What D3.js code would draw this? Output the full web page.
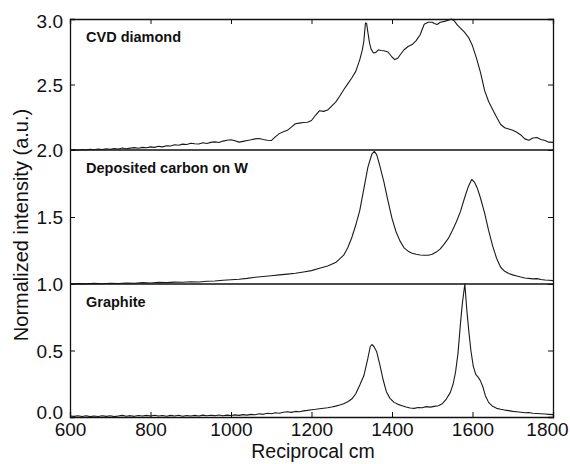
<!DOCTYPE html>
<html>
<head>
<meta charset="utf-8">
<script src="https://cdn.jsdelivr.net/npm/d3@7"></script>
<style>
  body { margin: 0; background: #fff; }
  text { font-family: "Liberation Sans", Arial, sans-serif; fill: #111; }
</style>
</head>
<body>
<svg id="chart" width="570" height="464"></svg>
<script>
// Raman spectra, three stacked traces (offset 2, 1, 0)
var xTicks = [600, 800, 1000, 1200, 1400, 1600, 1800];
var yTicks = [0, 0.5, 1.0, 1.5, 2.0, 2.5, 3.0];
var panelLabels = ["CVD diamond", "Deposited carbon on W", "Graphite"];
var panelOffsets = [2, 1, 0];

var cvdWn = [600,610,620,630,640,650,660,670,680,690,700,710,720,730,740,750,760,770,780,790,
  800,810,820,830,840,850,860,870,880,890,900,910,920,930,940,950,960,970,980,990,
  1000,1010,1020,1030,1040,1050,1060,1070,1080,1090,1100,1110,1120,1130,1140,1150,1160,1170,1180,1190,
  1200,1210,1220,1230,1240,1250,1260,1270,1280,1290,1300,1310,1320,1326,1330,1334,1337,1340,1344,1348,
  1354,1360,1366,1372,1380,1390,1400,1407,1414,1420,1430,1440,1450,1460,1470,1480,1490,1500,1505,1512,
  1520,1530,1540,1548,1555,1562,1570,1580,1590,1600,1610,1620,1630,1640,1650,1660,1670,1680,1690,1700,
  1710,1720,1730,1740,1750,1760,1770,1780,1790,1800];
var cvdInt = [0.000,0.003,-0.002,0.004,0.000,0.006,0.002,0.008,0.004,0.010,0.006,0.012,0.008,0.015,0.010,0.014,0.018,0.013,0.020,0.017,
  0.024,0.020,0.028,0.024,0.033,0.030,0.040,0.036,0.045,0.042,0.052,0.048,0.046,0.055,0.050,0.058,0.062,0.057,0.068,0.075,
  0.078,0.070,0.060,0.066,0.072,0.078,0.085,0.088,0.080,0.075,0.072,0.100,0.125,0.140,0.150,0.175,0.200,0.205,0.210,0.212,
  0.225,0.265,0.300,0.295,0.305,0.335,0.365,0.410,0.460,0.505,0.550,0.600,0.690,0.760,0.830,0.970,0.965,0.900,0.820,0.770,
  0.740,0.745,0.765,0.760,0.758,0.748,0.710,0.690,0.700,0.725,0.765,0.790,0.805,0.835,0.880,0.960,0.975,0.975,0.965,0.958,
  0.975,0.982,0.990,1.000,0.985,0.955,0.930,0.900,0.860,0.795,0.700,0.590,0.455,0.370,0.310,0.250,0.195,0.170,0.160,0.150,
  0.135,0.115,0.085,0.075,0.092,0.095,0.080,0.072,0.060,0.058];

var depWn = [600,620,640,660,680,700,720,740,760,780,800,820,840,860,880,900,920,940,960,980,
  1000,1020,1040,1060,1080,1100,1120,1140,1160,1180,1200,1220,1240,1260,1280,1290,1300,1310,1320,1330,
  1340,1350,1356,1362,1370,1380,1390,1400,1410,1420,1430,1440,1450,1460,1470,1480,1490,1500,1510,1520,
  1530,1540,1550,1560,1570,1580,1590,1598,1605,1612,1620,1630,1640,1650,1660,1670,1680,1690,1700,1710,
  1720,1730,1740,1750,1760,1770,1780,1790,1800];
var depInt = [0.000,0.003,0.001,0.005,0.002,0.006,0.004,0.008,0.006,0.010,0.008,0.012,0.010,0.014,0.013,0.017,0.015,0.020,0.022,0.028,
  0.032,0.036,0.042,0.050,0.056,0.062,0.068,0.074,0.080,0.090,0.100,0.117,0.135,0.160,0.215,0.270,0.345,0.440,0.550,0.710,
  0.870,0.970,0.990,0.965,0.880,0.760,0.620,0.490,0.390,0.320,0.270,0.245,0.230,0.222,0.216,0.214,0.215,0.222,0.238,0.262,
  0.300,0.340,0.400,0.465,0.540,0.640,0.730,0.780,0.760,0.715,0.640,0.530,0.400,0.285,0.190,0.125,0.095,0.078,0.068,0.060,
  0.052,0.045,0.042,0.038,0.040,0.034,0.030,0.028,0.025];

var graWn = [600,610,620,630,640,650,660,670,680,690,700,710,720,730,740,750,760,770,780,790,
  800,810,820,830,840,850,860,870,880,890,900,910,920,930,940,950,960,970,980,990,
  1000,1010,1020,1030,1040,1050,1060,1070,1080,1090,1100,1110,1120,1130,1140,1150,1160,1170,1180,1190,
  1200,1210,1220,1230,1240,1250,1260,1270,1280,1290,1300,1310,1320,1330,1340,1346,1350,1355,1362,1370,
  1378,1386,1395,1405,1415,1425,1435,1445,1455,1465,1475,1485,1495,1505,1515,1525,1535,1545,1552,1558,
  1564,1570,1575,1581,1586,1591,1596,1602,1608,1614,1620,1626,1632,1640,1650,1660,1670,1680,1690,1700,
  1710,1720,1730,1740,1750,1760,1770,1780,1790,1800];
var graInt = [0.008,0.005,0.010,0.004,0.009,0.003,0.008,0.004,0.010,0.005,0.009,0.003,0.008,0.012,0.006,0.010,0.005,0.011,0.007,0.012,
  0.008,0.013,0.007,0.011,0.006,0.012,0.008,0.013,0.006,0.011,0.007,0.012,0.008,0.014,0.009,0.013,0.010,0.015,0.009,0.014,
  0.011,0.016,0.012,0.018,0.014,0.020,0.017,0.024,0.020,0.028,0.024,0.032,0.028,0.036,0.040,0.035,0.042,0.040,0.046,0.050,
  0.055,0.058,0.062,0.066,0.070,0.075,0.082,0.090,0.100,0.115,0.135,0.175,0.240,0.310,0.440,0.530,0.545,0.530,0.490,0.390,
  0.280,0.190,0.140,0.110,0.095,0.085,0.075,0.068,0.065,0.072,0.070,0.078,0.074,0.080,0.085,0.100,0.135,0.185,0.250,0.340,
  0.480,0.700,0.860,1.000,0.800,0.640,0.500,0.380,0.320,0.300,0.270,0.225,0.160,0.110,0.080,0.065,0.058,0.052,0.048,0.042,
  0.040,0.036,0.032,0.034,0.028,0.026,0.024,0.022,0.020,0.018];

var svg = d3.select("#chart");

var x = d3.scaleLinear().domain([600, 1800]).range([70, 553]);
// panels are not quite equal height in the figure
var y = d3.scaleLinear().domain([0, 1, 2, 3]).range([417, 284, 150, 19]);

var series = [
  {wn: cvdWn, v: cvdInt, off: panelOffsets[0]},
  {wn: depWn, v: depInt, off: panelOffsets[1]},
  {wn: graWn, v: graInt, off: panelOffsets[2]}
];

var line = d3.line()
    .x(function(d) { return x(d[0]); })
    .y(function(d) { return y(d[1]); });

series.forEach(function(s) {
  var pts = s.wn.map(function(w, i) { return [w, s.v[i] + s.off]; });
  svg.append("path")
      .datum(pts)
      .attr("fill", "none")
      .attr("stroke", "#1a1a1a")
      .attr("stroke-width", 1.1)
      .attr("stroke-linejoin", "round")
      .attr("d", line);
});

// panel separators
[1, 2].forEach(function(v) {
  svg.append("line")
      .attr("x1", x(600)).attr("x2", x(1800))
      .attr("y1", y(v)).attr("y2", y(v))
      .attr("stroke", "#111").attr("stroke-width", 1.3);
});

// axes, ticks inward
var fmt = d3.format(".1f");
var axB = svg.append("g").attr("transform", "translate(0," + y(0) + ")")
    .call(d3.axisBottom(x).tickValues(xTicks).tickSize(-5).tickPadding(6).tickFormat(d3.format("d")));
var axT = svg.append("g").attr("transform", "translate(0," + y(3) + ")")
    .call(d3.axisTop(x).tickValues(xTicks).tickSize(-5).tickFormat(""));
var axL = svg.append("g").attr("transform", "translate(" + x(600) + ",0)")
    .call(d3.axisLeft(y).tickValues(yTicks).tickSize(-5).tickPadding(7).tickFormat(fmt));
var axR = svg.append("g").attr("transform", "translate(" + x(1800) + ",0)")
    .call(d3.axisRight(y).tickValues(yTicks).tickSize(-5).tickFormat(""));

[axB, axT, axL, axR].forEach(function(g) {
  g.selectAll("path.domain").attr("stroke", "#111").attr("stroke-width", 1.3);
  g.selectAll(".tick line").attr("stroke", "#111").attr("stroke-width", 1);
  g.selectAll("text").attr("font-size", 19).attr("font-family", "Liberation Sans, Arial, sans-serif").attr("fill", "#111");
});
axL.selectAll(".tick text").attr("dy", function(d) {
  if (d === 0) return "0.1em";
  if (d === 3) return "0.45em";
  return "0.35em";
});
// last x label pulled in so it stays inside the frame
axB.selectAll(".tick text").attr("dx", function(d) { return d === 1800 ? -6 : 0; });

// panel labels
panelLabels.forEach(function(t, i) {
  svg.append("text")
      .attr("x", 86)
      .attr("y", y(panelOffsets[i] + 1) + 23)
      .attr("font-size", 14.5)
      .attr("font-weight", "bold")
      .text(t);
});

// axis titles
svg.append("text")
    .attr("x", 313).attr("y", 458)
    .attr("text-anchor", "middle")
    .attr("font-size", 19.5)
    .text("Reciprocal cm");

svg.append("text")
    .attr("transform", "translate(28,225) rotate(-90)")
    .attr("text-anchor", "middle")
    .attr("font-size", 20)
    .text("Normalized intensity (a.u.)");
</script>
</body>
</html>
